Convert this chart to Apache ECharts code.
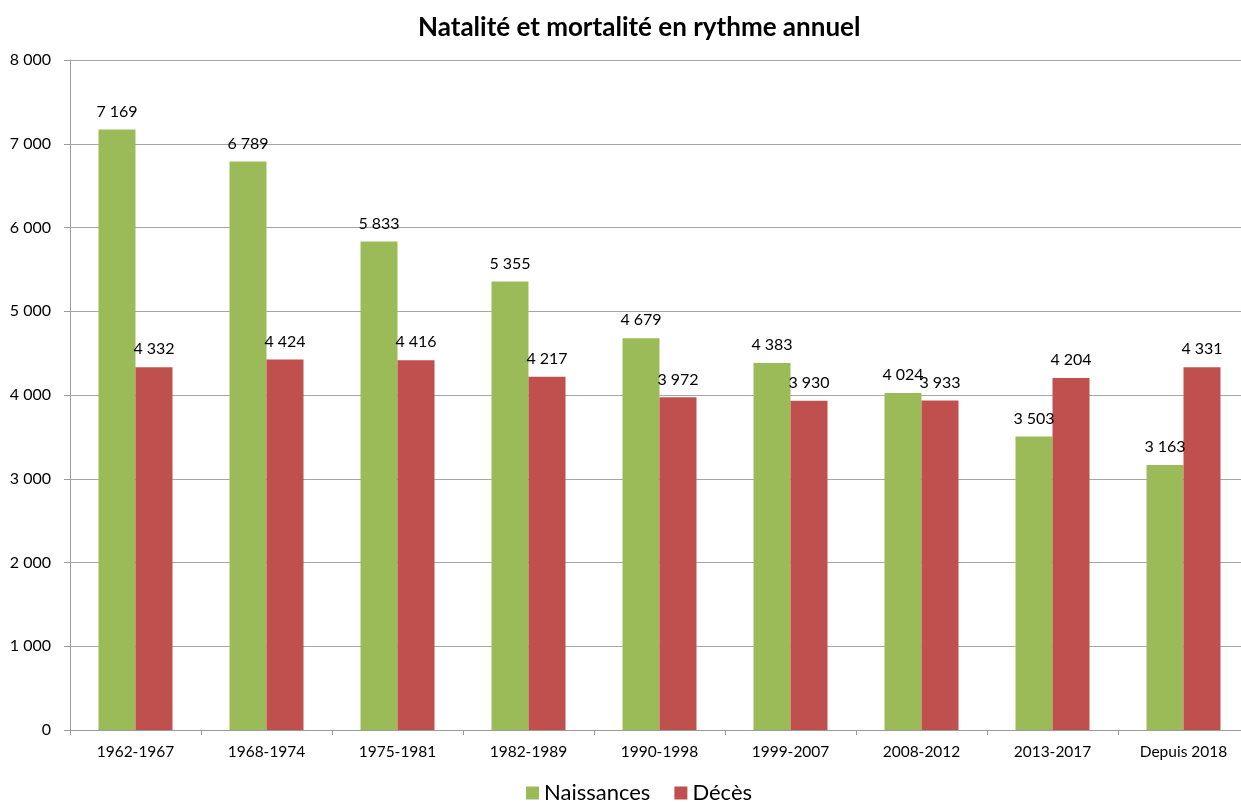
<!DOCTYPE html>
<html>
<head>
<meta charset="utf-8">
<script src="https://cdn.jsdelivr.net/npm/echarts@6/dist/echarts.min.js"></script>
<style>
html, body { margin: 0; padding: 0; background: #fff; }
#chart { width: 1241px; height: 803px; }
</style>
</head>
<body>
<div id="chart"></div>
<script>
var periodes = ['1962-1967', '1968-1974', '1975-1981', '1982-1989', '1990-1998', '1999-2007', '2008-2012', '2013-2017', 'Depuis 2018'];
var naissances = [7169, 6789, 5833, 5355, 4679, 4383, 4024, 3503, 3163];
var deces = [4332, 4424, 4416, 4217, 3972, 3930, 3933, 4204, 4331];

// separateur de milliers a la francaise
function fmt(v) {
    return String(v).replace(/\B(?=(\d{3})+(?!\d))/g, ' ');
}

var chart = echarts.init(document.getElementById('chart'));
var police = 'Lato, "Open Sans", sans-serif';

var option = {
    animation: false,
    title: {
        text: 'Natalité et mortalité en rythme annuel',
        left: 413,
        top: 10,
        textStyle: { fontFamily: police, fontSize: 26, fontWeight: 'bold', color: '#000' }
    },
    legend: {
        bottom: -6,
        left: 521,
        itemWidth: 13,
        itemHeight: 13,
        itemGap: 24,
        icon: 'rect',
        textStyle: { fontFamily: police, fontSize: 22, color: '#000' },
        data: ['Naissances', 'Décès']
    },
    grid: {
        left: 70,
        width: 1179,
        top: 60,
        bottom: 73,
        outerBoundsMode: 'none'
    },
    xAxis: {
        type: 'category',
        data: periodes,
        axisLine: { lineStyle: { color: '#9a9a9a' } },
        axisTick: { show: true, length: 5, lineStyle: { color: '#9a9a9a' } },
        axisLabel: { fontFamily: police, fontSize: 15.5, color: '#000', margin: 14 }
    },
    yAxis: {
        type: 'value',
        min: 0,
        max: 8000,
        interval: 1000,
        axisLine: { show: true, lineStyle: { color: '#9a9a9a' } },
        axisTick: { show: true, length: 6, lineStyle: { color: '#9a9a9a' } },
        splitLine: { lineStyle: { color: '#a6a6a6' } },
        axisLabel: {
            fontFamily: police, fontSize: 16, color: '#000', margin: 19,
            formatter: function (v) { return fmt(v); }
        }
    },
    series: [
        {
            name: 'Naissances',
            type: 'bar',
            data: naissances,
            barWidth: 37,
            barGap: '0%',
            itemStyle: { color: '#9BBB59' },
            label: {
                show: true, position: 'top', distance: 10,
                fontFamily: police, fontSize: 16, color: '#000',
                formatter: function (p) { return fmt(p.value); }
            }
        },
        {
            name: 'Décès',
            type: 'bar',
            data: deces,
            barWidth: 37,
            itemStyle: { color: '#C0504D' },
            label: {
                show: true, position: 'top', distance: 10,
                fontFamily: police, fontSize: 16, color: '#000',
                formatter: function (p) { return fmt(p.value); }
            }
        }
    ]
};
chart.setOption(option);
</script>
</body>
</html>
